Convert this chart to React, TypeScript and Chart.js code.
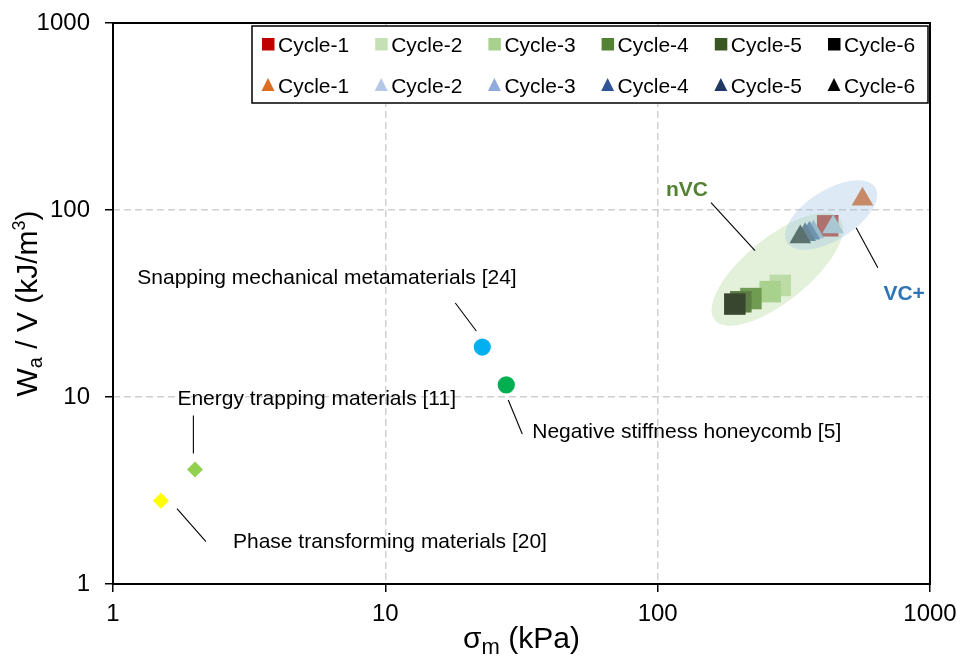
import React, { useEffect, useRef } from 'react';
import { Chart, registerables } from 'chart.js';

Chart.register(...registerables);

// ---------- data ----------
const X_TICKS = [1, 10, 100, 1000];
const Y_TICKS = [1, 10, 100, 1000];

const CYCLE_LABELS = ['Cycle-1', 'Cycle-2', 'Cycle-3', 'Cycle-4', 'Cycle-5', 'Cycle-6'];

// nVC (squares)
const NVC_X = [421, 282, 259, 220, 202, 192];
const NVC_Y = [82.3, 39.5, 36.6, 33.6, 32.3, 31.4];
const NVC_COLORS = ['#C00000', '#C5E0B4', '#A9D18E', '#548235', '#385723', '#000000'];

// VC+ (triangles)
const VCP_X = [565, 441, 373, 361, 348, 334];
const VCP_Y = [114, 81.1, 76.3, 75.1, 73.8, 71.7];
const VCP_COLORS = ['#DC6C22', '#B4C7E7', '#8FAADC', '#2F5597', '#203864', '#000000'];

// literature points
const LIT_NAMES = [
  'Snapping mechanical metamaterials [24]',
  'Negative stiffness honeycomb [5]',
  'Energy trapping materials [11]',
  'Phase transforming materials [20]',
];
const LIT_X = [22.7, 27.8, 2.0, 1.5];
const LIT_Y = [18.5, 11.6, 4.1, 2.79];
const LIT_COLORS = ['#00B0F0', '#00B050', '#92D050', '#FFFF00'];
const LIT_STYLES = ['circle', 'circle', 'rectRot', 'rectRot'];

// groups (ellipse annotations)
const GROUP_NAMES = ['nVC', 'VC+'];
const GROUP_X = [275, 433.5];
const GROUP_Y = [48.1, 94];

// ---------- styling / layout (pixels) ----------
const FONT = "'Liberation Sans', Arial, sans-serif";
const LIT_LABEL_LAYOUT = [
  { tx: -345, ty: -69, l1: [-27, -44], l2: [-6, -16] },
  { tx: 26, ty: 47, l1: [2, 15], l2: [16, 49] },
  { tx: -17.6, ty: -70, l1: [-1.6, -54], l2: [-1.6, -16] },
  { tx: 72, ty: 42, l1: [16, 8], l2: [45, 41] },
];
const GROUP_LAYOUT = [
  { a: 80.5, b: 32, angle: -39, fill: 'rgba(169,209,142,0.33)', color: '#548235', tx: -111.3, ty: -78.8, l1: [-66.3, -66.8], l2: [-22.3, -18.8] },
  { a: 52, b: 25, angle: -32, fill: 'rgba(157,195,230,0.35)', color: '#2E75B6', tx: 52.3, ty: 79, l1: [25, 12.7], l2: [46.7, 52.7] },
];

type Part = { t: string; size: number; dy: number };

function drawRich(ctx: CanvasRenderingContext2D, parts: Part[], cx: number, baseY: number) {
  let total = 0;
  const widths = parts.map((p) => {
    ctx.font = `${p.size}px ${FONT}`;
    const w = ctx.measureText(p.t).width;
    total += w;
    return w;
  });
  let x = cx - total / 2;
  ctx.textAlign = 'left';
  ctx.textBaseline = 'alphabetic';
  parts.forEach((p, i) => {
    ctx.font = `${p.size}px ${FONT}`;
    ctx.fillText(p.t, x, baseY + p.dy);
    x += widths[i];
  });
}

const overlayPlugin = {
  id: 'overlay',
  afterDatasetsDraw(chart: any) {
    const { ctx, scales } = chart;
    const xs = scales.x;
    const ys = scales.y;

    // ellipses on top of markers
    GROUP_NAMES.forEach((_, i) => {
      const g = GROUP_LAYOUT[i];
      const cx = xs.getPixelForValue(GROUP_X[i]);
      const cy = ys.getPixelForValue(GROUP_Y[i]);
      ctx.save();
      ctx.beginPath();
      ctx.ellipse(cx, cy, g.a, g.b, (g.angle * Math.PI) / 180, 0, Math.PI * 2);
      ctx.fillStyle = g.fill;
      ctx.fill();
      ctx.restore();
    });

    ctx.save();
    ctx.strokeStyle = '#000';
    ctx.lineWidth = 1.1;
    // literature labels
    LIT_NAMES.forEach((name, i) => {
      const L = LIT_LABEL_LAYOUT[i];
      const px = xs.getPixelForValue(LIT_X[i]);
      const py = ys.getPixelForValue(LIT_Y[i]);
      ctx.beginPath();
      ctx.moveTo(px + L.l1[0], py + L.l1[1]);
      ctx.lineTo(px + L.l2[0], py + L.l2[1]);
      ctx.stroke();
      ctx.fillStyle = '#000';
      ctx.font = `21px ${FONT}`;
      ctx.textAlign = 'left';
      ctx.textBaseline = 'middle';
      ctx.fillText(name, px + L.tx, py + L.ty);
    });
    // group labels
    GROUP_NAMES.forEach((name, i) => {
      const g = GROUP_LAYOUT[i];
      const cx = xs.getPixelForValue(GROUP_X[i]);
      const cy = ys.getPixelForValue(GROUP_Y[i]);
      ctx.beginPath();
      ctx.moveTo(cx + g.l1[0], cy + g.l1[1]);
      ctx.lineTo(cx + g.l2[0], cy + g.l2[1]);
      ctx.stroke();
      ctx.fillStyle = g.color;
      ctx.font = `bold 21px ${FONT}`;
      ctx.textAlign = 'left';
      ctx.textBaseline = 'middle';
      ctx.fillText(name, cx + g.tx, cy + g.ty);
    });
    ctx.restore();
  },
  afterDraw(chart: any) {
    const { ctx, chartArea } = chart;
    const { left, right, top, bottom } = chartArea;
    ctx.save();
    // frame
    ctx.strokeStyle = '#000';
    ctx.lineWidth = 2;
    ctx.strokeRect(left, top, right - left, bottom - top);

    // legend box
    const lw = 676;
    const lh = 77;
    const lx = right - 2 - lw;
    const ly = top + 3;
    ctx.fillStyle = '#fff';
    ctx.fillRect(lx, ly, lw, lh);
    ctx.lineWidth = 1.5;
    ctx.strokeRect(lx, ly, lw, lh);
    const rows = [
      { colors: NVC_COLORS, shape: 'rect', cy: ly + 19 },
      { colors: VCP_COLORS, shape: 'tri', cy: ly + 60 },
    ];
    ctx.font = `21px ${FONT}`;
    ctx.textAlign = 'left';
    ctx.textBaseline = 'middle';
    rows.forEach((r) => {
      CYCLE_LABELS.forEach((lab, k) => {
        const sx = lx + 10 + k * 113.2;
        ctx.fillStyle = r.colors[k];
        if (r.shape === 'rect') {
          ctx.fillRect(sx, r.cy - 7, 12.5, 12.5);
        } else {
          ctx.beginPath();
          ctx.moveTo(sx + 6, r.cy - 8);
          ctx.lineTo(sx + 12.5, r.cy + 5);
          ctx.lineTo(sx - 0.5, r.cy + 5);
          ctx.closePath();
          ctx.fill();
        }
        ctx.fillStyle = '#000';
        ctx.fillText(lab, sx + 16, r.cy + 1);
      });
    });

    // axis titles
    ctx.fillStyle = '#000';
    drawRich(
      ctx,
      [
        { t: 'σ', size: 30, dy: 0 },
        { t: 'm', size: 22, dy: 6 },
        { t: ' (kPa)', size: 30, dy: 0 },
      ],
      (left + right) / 2,
      648
    );
    ctx.save();
    ctx.translate(36.5, (top + bottom) / 2);
    ctx.rotate(-Math.PI / 2);
    drawRich(
      ctx,
      [
        { t: 'W', size: 30, dy: 0 },
        { t: 'a', size: 20, dy: 5 },
        { t: ' / V (kJ/m', size: 30, dy: 0 },
        { t: '3', size: 18, dy: -12 },
        { t: ')', size: 30, dy: 0 },
      ],
      0,
      0
    );
    ctx.restore();
    ctx.restore();
  },
};

export default function App() {
  const canvasRef = useRef<HTMLCanvasElement | null>(null);

  useEffect(() => {
    const canvas = canvasRef.current;
    if (!canvas) return;
    Chart.defaults.font.family = FONT;
    Chart.defaults.color = '#000';

    const datasets: any[] = [];
    CYCLE_LABELS.forEach((lab, i) => {
      datasets.push({
        label: `nVC ${lab}`,
        data: [{ x: NVC_X[i], y: NVC_Y[i] }],
        pointStyle: 'rect',
        pointRadius: 15.2,
        pointHoverRadius: 15.2,
        backgroundColor: NVC_COLORS[i],
        borderWidth: 0,
        order: 100 - i,
      });
    });
    CYCLE_LABELS.forEach((lab, i) => {
      datasets.push({
        label: `VC+ ${lab}`,
        data: [{ x: VCP_X[i], y: VCP_Y[i] }],
        pointStyle: 'triangle',
        pointRadius: 12.5,
        pointHoverRadius: 12.5,
        backgroundColor: VCP_COLORS[i],
        borderWidth: 0,
        order: 90 - i,
      });
    });
    LIT_NAMES.forEach((name, i) => {
      datasets.push({
        label: name,
        data: [{ x: LIT_X[i], y: LIT_Y[i] }],
        pointStyle: LIT_STYLES[i],
        pointRadius: LIT_STYLES[i] === 'circle' ? 8.6 : 8,
        pointHoverRadius: LIT_STYLES[i] === 'circle' ? 8.6 : 8,
        backgroundColor: LIT_COLORS[i],
        borderWidth: 0,
        order: 50,
      });
    });

    const axisGrid = {
      color: '#D0D0D0',
      lineWidth: 1.5,
      drawTicks: true,
      tickLength: 8,
      tickColor: '#000',
      tickWidth: 1.5,
      tickBorderDash: [],
    };

    const chart = new Chart(canvas, {
      type: 'scatter',
      data: { datasets },
      plugins: [overlayPlugin],
      options: {
        responsive: false,
        animation: false,
        devicePixelRatio: 1,
        layout: { autoPadding: false, padding: { top: 23, right: 30, left: 0, bottom: 0 } },
        plugins: { legend: { display: false }, tooltip: { enabled: false } },
        events: [],
        scales: {
          x: {
            type: 'logarithmic',
            min: 1,
            max: 1000,
            afterBuildTicks: (s: any) => {
              s.ticks = X_TICKS.map((v) => ({ value: v }));
            },
            afterFit: (s: any) => {
              s.height = 74;
              s.paddingLeft = 0;
              s.paddingRight = 0;
              s.paddingTop = 0;
              s.paddingBottom = 0;
            },
            ticks: {
              autoSkip: false,
              maxRotation: 0,
              padding: 8,
              font: { size: 24 },
              color: '#000',
              callback: (v: any) => String(v),
            },
            grid: axisGrid,
            border: { display: false, dash: [7, 4] },
            title: { display: false },
          },
          y: {
            type: 'logarithmic',
            min: 1,
            max: 1000,
            afterBuildTicks: (s: any) => {
              s.ticks = Y_TICKS.map((v) => ({ value: v }));
            },
            afterFit: (s: any) => {
              s.width = 113;
              s.paddingLeft = 0;
              s.paddingRight = 0;
              s.paddingTop = 0;
              s.paddingBottom = 0;
            },
            ticks: {
              autoSkip: false,
              padding: 15,
              font: { size: 24 },
              color: '#000',
              callback: (v: any) => String(v),
            },
            grid: axisGrid,
            border: { display: false, dash: [7, 4] },
            title: { display: false },
          },
        },
      } as any,
    });
    return () => chart.destroy();
  }, []);

  return (
    <div style={{ position: 'fixed', left: 0, top: 0, width: 960, height: 658, background: '#fff' }}>
      <canvas ref={canvasRef} width={960} height={658} style={{ display: 'block', width: 960, height: 658 }} />
    </div>
  );
}
